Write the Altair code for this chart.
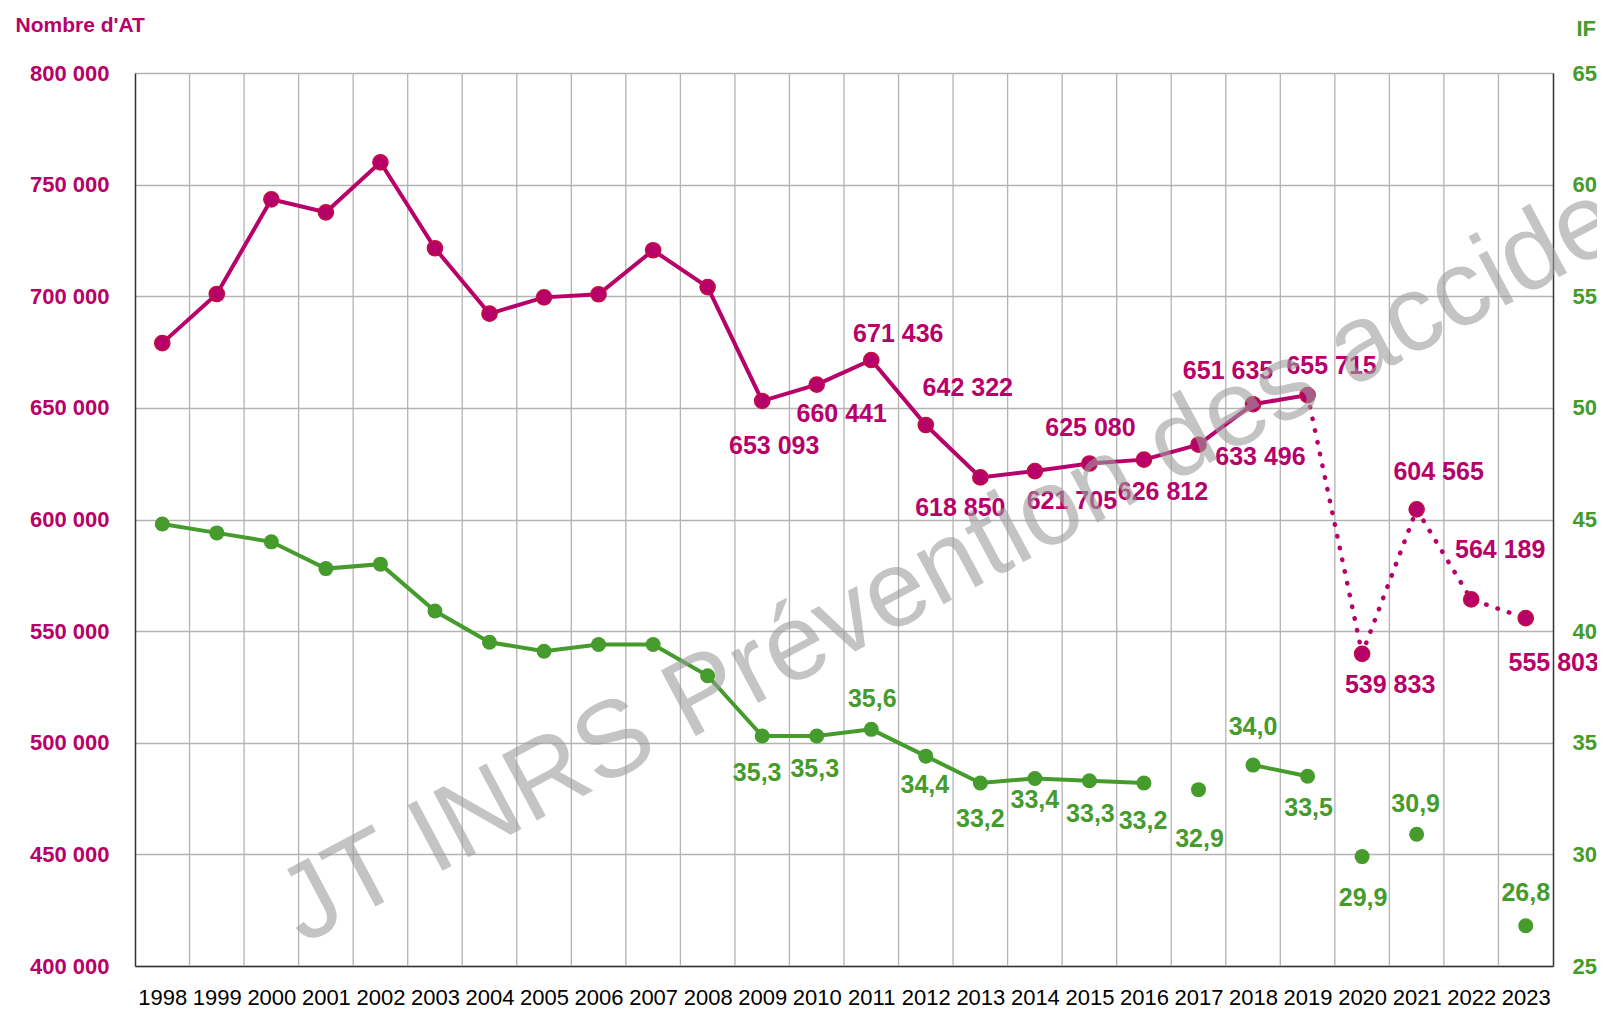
import altair as alt
import pandas as pd

# ---------------- data ----------------
years = list(range(1998, 2024))
nb_at = [679000, 701000, 743400, 737600, 760000, 721500, 692200, 699500,
         700900, 720600, 704100, 653093, 660441, 671436, 642322, 618850,
         621705, 625080, 626812, 633496, 651635, 655715, 539833, 604565,
         564189, 555803]
if_vals = [44.8, 44.4, 44.0, 42.8, 43.0, 40.9, 39.5, 39.1, 39.4, 39.4, 38.0,
           35.3, 35.3, 35.6, 34.4, 33.2, 33.4, 33.3, 33.2, 32.9, 34.0, 33.5,
           29.9, 30.9, None, 26.8]
# years from which values are labelled
label_from = 2009
# last year of the solid AT line (dotted afterwards)
solid_until = 2019
# connected runs of the IF series
if_runs = [(1998, 2016), (2018, 2019)]

left_ticks = list(range(400000, 800001, 50000))
right_ticks = list(range(25, 66, 5))

# label offsets in pixels (style), per labelled year
mag_dx = [12, 25, 27, 42, -20, 37, 1, 19, 62, -25, 24, 28, 22, 29, 28]
mag_dy = [45, 29, -26, -37, 31, 30, -36, 32, 12, -33, -29, 31, -37, -49, 45]
grn_off = {2009: (-5, 37), 2010: (-2, 33), 2011: (1, -30), 2012: (-1, 29),
           2013: (0, 36), 2014: (0, 22), 2015: (1, 33), 2016: (-1, 38),
           2017: (1, 49), 2018: (0, -38), 2019: (1, 32), 2020: (1, 41),
           2021: (-1, -30), 2023: (0, -33)}

# ---------------- styles ----------------
MAG = "#b8006a"
MAG_EDGE = "#c0103c"
GRN = "#459b2b"
GRID = "#b3b3b3"
SANS = "Liberation Sans, Arial, sans-serif"
W, H = 1418, 893


def fmt_at(v):
    return f"{v:,}".replace(",", " ")


def fmt_if(v):
    return f"{v:.1f}".replace(".", ",")


mag_df = pd.DataFrame({"year": years, "value": nb_at})
mag_solid = mag_df[mag_df.year <= solid_until]
mag_dot = mag_df[mag_df.year >= solid_until]
mag_lab = mag_df[mag_df.year >= label_from].copy()
mag_lab["text"] = [fmt_at(v) for v in mag_lab.value]
mag_lab["dx"] = mag_dx
mag_lab["dy"] = mag_dy

grn_df = pd.DataFrame({"year": years, "ifv": if_vals}).dropna()
run_id = []
for y in grn_df.year:
    rid = None
    for i, (a, b) in enumerate(if_runs):
        if a <= y <= b:
            rid = i
    run_id.append(rid)
grn_df["run"] = run_id
grn_lines = grn_df.dropna(subset=["run"])
grn_lab = grn_df[grn_df.year >= label_from].copy()
grn_lab["text"] = [fmt_if(v) for v in grn_lab.ifv]
grn_lab["dx"] = [grn_off[int(y)][0] for y in grn_lab.year]
grn_lab["dy"] = [grn_off[int(y)][1] for y in grn_lab.year]

grid_df = pd.DataFrame({"year": [y + 0.5 for y in years[:-1]]})

x = alt.X(
    "year:Q",
    scale=alt.Scale(domain=[years[0] - 0.5, years[-1] + 0.5], nice=False, zero=False),
    axis=alt.Axis(values=years, format="d", grid=False, ticks=False,
                  domainColor="#333333", domainWidth=1.5,
                  labelFont=SANS, labelFontSize=22, labelColor="black",
                  labelPadding=21, labelFlush=False, labelOverlap=False,
                  title=None),
)

y_left = alt.Y(
    "value:Q",
    scale=alt.Scale(domain=[left_ticks[0], left_ticks[-1]], nice=False, zero=False),
    axis=alt.Axis(values=left_ticks,
                  labelExpr="replace(format(datum.value, ','), ',', ' ')",
                  grid=True, gridColor=GRID, gridWidth=1.3, ticks=False,
                  domainColor="#333333", domainWidth=1.5,
                  labelColor=MAG, labelFont=SANS, labelFontWeight="bold",
                  labelFontSize=22, labelPadding=26, labelOverlap=False,
                  title="Nombre d'AT", titleAngle=0, titleX=-120, titleY=-42,
                  titleAlign="left", titleBaseline="alphabetic",
                  titleColor=MAG, titleFont=SANS, titleFontSize=21,
                  titleFontWeight="bold"),
)

y_right = alt.Y(
    "ifv:Q",
    scale=alt.Scale(domain=[right_ticks[0], right_ticks[-1]], nice=False, zero=False),
    axis=alt.Axis(orient="right", values=right_ticks, format="d",
                  grid=False, ticks=False,
                  domainColor="#333333", domainWidth=1.5,
                  labelColor=GRN, labelFont=SANS, labelFontWeight="bold",
                  labelFontSize=22, labelPadding=19, labelOverlap=False,
                  title="IF", titleAngle=0, titleX=23, titleY=-38,
                  titleAlign="left", titleBaseline="alphabetic",
                  titleColor=GRN, titleFont=SANS, titleFontSize=22,
                  titleFontWeight="bold"),
)

rules = alt.Chart(grid_df).mark_rule(color=GRID, strokeWidth=1.3).encode(x=x)

m_solid = alt.Chart(mag_solid).mark_line(color=MAG, strokeWidth=4).encode(x=x, y=y_left)
m_dot = alt.Chart(mag_dot).mark_line(color=MAG, strokeWidth=4.5, strokeDash=[0.5, 11.5],
                                     strokeCap="round").encode(x=x, y=y_left)
m_pts = alt.Chart(mag_df).mark_point(filled=True, fill=MAG, stroke=MAG_EDGE, strokeWidth=1.5,
                                     size=230, opacity=1).encode(x=x, y=y_left)
m_lab = alt.Chart(mag_lab).mark_text(font=SANS, fontSize=25, fontWeight="bold", color=MAG,
                                     align="center", baseline="middle",
                                     dx={"expr": "datum.dx"}, dy={"expr": "datum.dy"}
                                     ).encode(x=x, y=y_left, text="text:N")

left = alt.layer(rules, m_solid, m_dot, m_pts, m_lab)

g_line = alt.Chart(grn_lines).mark_line(color=GRN, strokeWidth=4).encode(
    x=x, y=y_right, detail="run:N")
g_pts = alt.Chart(grn_df).mark_point(filled=True, fill=GRN, size=225, opacity=1).encode(x=x, y=y_right)
g_lab = alt.Chart(grn_lab).mark_text(font=SANS, fontSize=25, fontWeight="bold", color=GRN,
                                     align="center", baseline="middle",
                                     dx={"expr": "datum.dx"}, dy={"expr": "datum.dy"}
                                     ).encode(x=x, y=y_right, text="text:N")

right = alt.layer(g_line, g_pts, g_lab)

wm = alt.Chart(pd.DataFrame({"t": ["JT INRS Prévention des accidents du travail"]})).mark_text(
    font=SANS, fontSize=108, color="#9d9d9d", opacity=0.6, angle=332,
    align="left", baseline="alphabetic",
).encode(x=alt.value(168), y=alt.value(872), text="t:N")

chart = alt.layer(left, right, wm).resolve_scale(y="independent").properties(
    width=W, height=H,
    padding={"left": 127, "top": 65, "right": 44, "bottom": 42},
    autosize=alt.AutoSizeParams(type="none"),
).configure_view(stroke=None).configure(background="white")

chart.save("out.html", embed_options={"renderer": "svg", "actions": False})
